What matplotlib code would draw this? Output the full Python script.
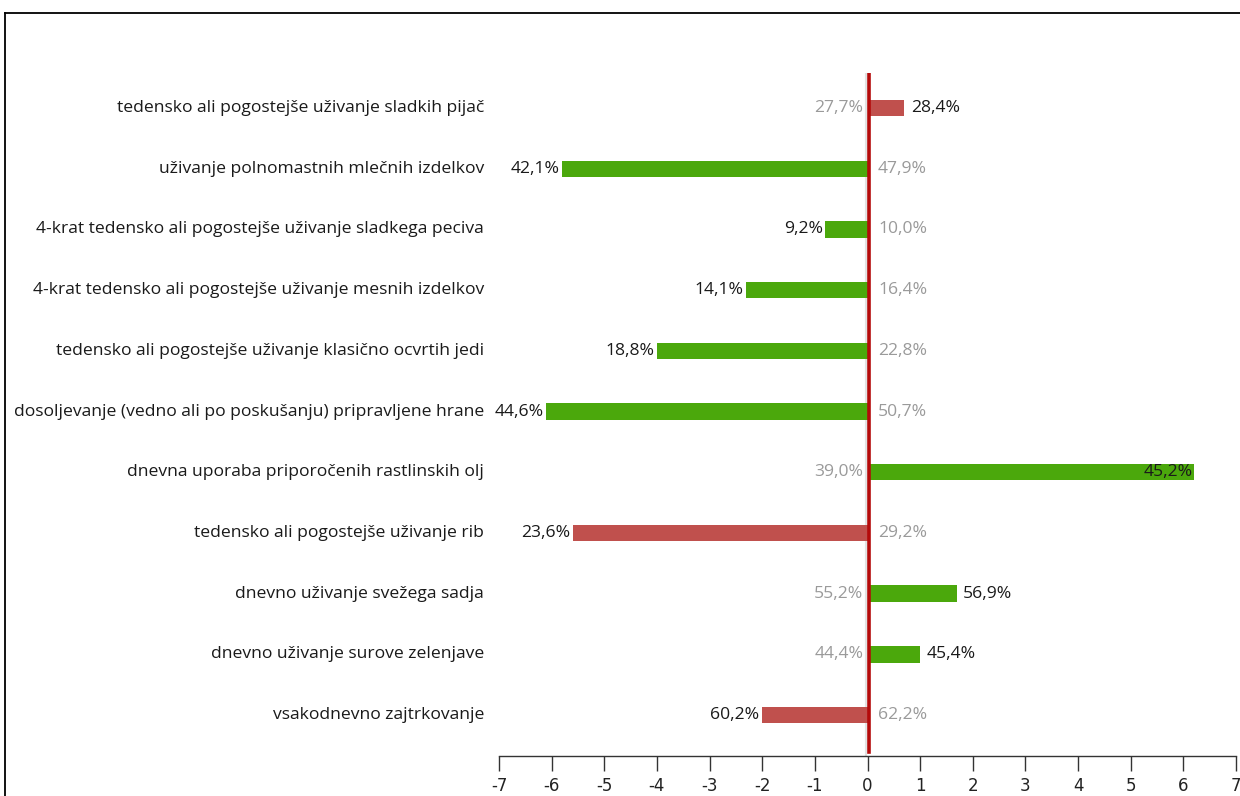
import matplotlib
matplotlib.use("Agg")
import matplotlib.pyplot as plt
import matplotlib.transforms as mtransforms
from matplotlib.lines import Line2D

categories = [
    "tedensko ali pogostejše uživanje sladkih pijač",
    "uživanje polnomastnih mlečnih izdelkov",
    "4-krat tedensko ali pogostejše uživanje sladkega peciva",
    "4-krat tedensko ali pogostejše uživanje mesnih izdelkov",
    "tedensko ali pogostejše uživanje klasično ocvrtih jedi",
    "dosoljevanje (vedno ali po poskušanju) pripravljene hrane",
    "dnevna uporaba priporočenih rastlinskih olj",
    "tedensko ali pogostejše uživanje rib",
    "dnevno uživanje svežega sadja",
    "dnevno uživanje surove zelenjave",
    "vsakodnevno zajtrkovanje",
]
previous = [27.7, 47.9, 10.0, 16.4, 22.8, 50.7, 39.0, 29.2, 55.2, 44.4, 62.2]
current = [28.4, 42.1, 9.2, 14.1, 18.8, 44.6, 45.2, 23.6, 56.9, 45.4, 60.2]
change = [0.7, -5.8, -0.8, -2.3, -4.0, -6.1, 6.2, -5.6, 1.7, 1.0, -2.0]
favourable = [False, True, True, True, True, True, True, False, True, True, False]
xticks = [-7, -6, -5, -4, -3, -2, -1, 0, 1, 2, 3, 4, 5, 6, 7]

GREEN = "#4BA80C"
RED = "#C0504D"
DARK = "#1a1a1a"
GREY = "#9a9a9a"
FS = 12.6

plt.rcParams["font.family"] = ["Open Sans", "DejaVu Sans"]

fig = plt.figure(figsize=(12.4, 7.96), dpi=100)
ax = fig.add_axes([499 / 1240, 1 - 756 / 796, (1236 - 499) / 1240, (756 - 72.8) / 796])

n = len(categories)
ypos = [n - 1 - i for i in range(n)]
colors = [GREEN if f else RED for f in favourable]
ax.barh(ypos, change, height=0.27, color=colors, zorder=2)

ax.set_xlim(-7, 7)
ax.set_ylim(-0.675, n - 1 + 0.58)

# zero lines
ax.axvline(-0.03, color="#e2e2e2", lw=1.5, zorder=1)
ax.axvline(0.03, color="#B40A0A", lw=2.6, zorder=3, ymin=0.006, ymax=1)

fmt = lambda v: f"{v:.1f}%".replace(".", ",")
for y, c, p, cur in zip(ypos, change, previous, current):
    if c >= 0:
        ax.text(-0.08, y, fmt(p), ha="right", va="center", color=GREY, fontsize=FS, zorder=4)
        if c > 5.5:
            ax.text(c - 0.03, y, fmt(cur), ha="right", va="center", color=DARK, fontsize=FS, zorder=4)
        else:
            ax.text(c + 0.12, y, fmt(cur), ha="left", va="center", color=DARK, fontsize=FS, zorder=4)
    else:
        ax.text(0.2, y, fmt(p), ha="left", va="center", color=GREY, fontsize=FS, zorder=4)
        ax.text(c - 0.05, y, fmt(cur), ha="right", va="center", color=DARK, fontsize=FS, zorder=4)

# category labels (x in figure coords, y in data coords)
lab_tr = mtransforms.blended_transform_factory(fig.transFigure, ax.transData)
for y, lab in zip(ypos, categories):
    ax.text(484 / 1240, y, lab, transform=lab_tr, ha="right", va="center",
            color=DARK, fontsize=FS, clip_on=False)

ax.set_yticks([])
ax.set_xticks(xticks)
ax.set_xticklabels([str(t) for t in xticks], fontsize=12, color="#222222",
                   family=["DejaVu Sans"])
ax.tick_params(axis="x", direction="out", length=11, width=1, color="#333333", pad=4)
for s in ["top", "right", "left"]:
    ax.spines[s].set_visible(False)
ax.spines["bottom"].set_color("#333333")
ax.spines["bottom"].set_linewidth(1)

# outer frame (as in the original screenshot)
fig.add_artist(Line2D([4.5 / 1240, 1.0], [1 - 13 / 796, 1 - 13 / 796], transform=fig.transFigure,
                      color="black", lw=1.3))
fig.add_artist(Line2D([4.5 / 1240, 4.5 / 1240], [0, 1 - 13 / 796], transform=fig.transFigure,
                      color="black", lw=1.3))

fig.savefig("out.png", dpi=100)
